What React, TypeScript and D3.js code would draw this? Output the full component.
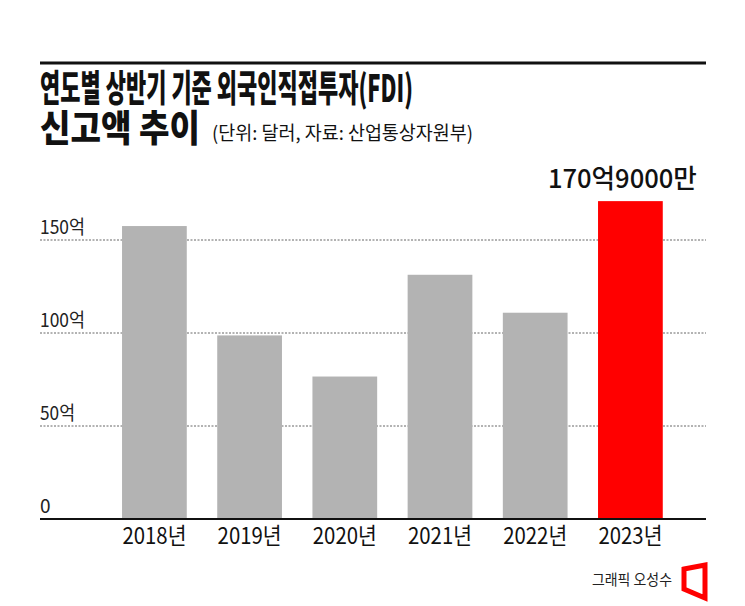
import React from 'react';
import * as d3 from 'd3';

const years = ['2018년', '2019년', '2020년', '2021년', '2022년', '2023년'];
const values = [157.5, 98.7, 76.6, 131.3, 110.9, 170.9];
const tickValues = [0, 50, 100, 150];
const tickLabels = ['0', '50억', '100억', '150억'];
const highlightLabel = '170억9000만';

const FONT = '"Noto Sans CJK KR", "Noto Sans", sans-serif';
const W = 745;
const H = 606;

const App: React.FC = () => {
  const x = d3.scaleBand<string>().domain(years).range([106.8, 678]).paddingInner(0.32).paddingOuter(0.16);
  const y = d3.scaleLinear().domain([0, 150]).range([519, 240]);
  const last = years[years.length - 1];

  return (
    <div style={{ position: 'absolute', left: 0, top: 0 }}>
      <svg width={W} height={H} style={{ display: 'block', background: '#fff' }} fontFamily={FONT}>
        {/* header */}
        <line x1={40} x2={706} y1={63} y2={63} stroke="#111" strokeWidth={3} />
        <text x={40} y={102} fontSize={37} fontWeight={900} fill="#111" textLength={373} lengthAdjust="spacingAndGlyphs">
          연도별 상반기 기준 외국인직접투자(FDI)
        </text>
        <text x={40} y={142} fontSize={37} fontWeight={900} fill="#111" textLength={160} lengthAdjust="spacingAndGlyphs">
          신고액 추이
        </text>
        <text x={212} y={140} fontSize={19} fill="#111" textLength={261} lengthAdjust="spacingAndGlyphs">
          (단위: 달러, 자료: 산업통상자원부)
        </text>

        {/* grid */}
        {tickValues.filter((t) => t > 0).map((t) => (
          <line key={t} x1={40} x2={706} y1={y(t)} y2={y(t)} stroke="#666" strokeWidth={1} strokeDasharray="2,1.5" />
        ))}
        {tickValues.map((t, i) => (
          <text key={t} x={40} y={y(t) - 6} fontSize={19} fill="#222"
            textLength={t === 0 ? undefined : tickLabels[i].length === 4 ? 45 : 35}
            lengthAdjust="spacingAndGlyphs">
            {tickLabels[i]}
          </text>
        ))}

        {/* bars */}
        {years.map((yr, i) => (
          <rect key={yr} x={x(yr)} y={y(values[i])} width={x.bandwidth()} height={y(0) - y(values[i])}
            fill={yr === last ? '#ff0000' : '#b3b3b3'} />
        ))}
        <line x1={40} x2={706} y1={y(0)} y2={y(0)} stroke="#111" strokeWidth={2} />

        {/* category labels */}
        {years.map((yr) => (
          <text key={yr} x={(x(yr) ?? 0) + x.bandwidth() / 2} y={544} fontSize={23} fill="#111" textAnchor="middle"
            textLength={64} lengthAdjust="spacingAndGlyphs">
            {yr}
          </text>
        ))}

        {/* highlight value */}
        <text x={(x(last) ?? 0) + x.bandwidth() / 2 - 8} y={188} fontSize={26} fontWeight={500} fill="#111"
          textAnchor="middle" textLength={149} lengthAdjust="spacingAndGlyphs">
          {highlightLabel}
        </text>

        {/* credit */}
        <text x={592} y={585} fontSize={15} fill="#222" textLength={80} lengthAdjust="spacingAndGlyphs">
          그래픽 오성수
        </text>
        <path d="M684,569 L705,565 L705,598 L684,589 Z" fill="none" stroke="#ff0000" strokeWidth={5} strokeLinejoin="miter" />
      </svg>
    </div>
  );
};

export default App;
